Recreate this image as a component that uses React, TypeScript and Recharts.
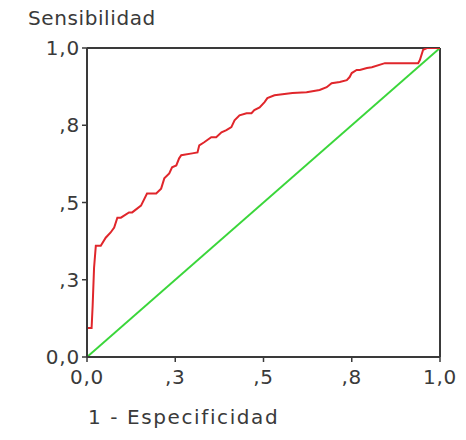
import React from "react";
import { LineChart, Line, XAxis, YAxis, ReferenceLine } from "recharts";

// ROC curve: 1 - specificity (x) and sensitivity (y)
const fpr = [
  0, 0, 0, 0.013, 0.016, 0.02, 0.025, 0.039, 0.053, 0.067, 0.077, 0.086, 0.096,
  0.119, 0.128, 0.153, 0.17, 0.196, 0.21, 0.219, 0.233, 0.241, 0.253, 0.261,
  0.267, 0.298, 0.313, 0.318, 0.332, 0.352, 0.366, 0.381, 0.395, 0.409, 0.418,
  0.432, 0.452, 0.466, 0.474, 0.489, 0.503, 0.511, 0.531, 0.582, 0.622, 0.659,
  0.679, 0.693, 0.716, 0.736, 0.744, 0.75, 0.764, 0.773, 0.793, 0.807, 0.844,
  0.938, 0.943, 0.952, 0.963, 1
];
const tpr = [
  0, 0.042, 0.094, 0.094, 0.166, 0.289, 0.36, 0.36, 0.386, 0.403, 0.419, 0.451,
  0.451, 0.468, 0.468, 0.49, 0.529, 0.529, 0.545, 0.578, 0.594, 0.614, 0.62,
  0.643, 0.653, 0.659, 0.662, 0.685, 0.695, 0.711, 0.711, 0.727, 0.734, 0.744,
  0.766, 0.782, 0.789, 0.789, 0.799, 0.808, 0.825, 0.838, 0.847, 0.854, 0.857,
  0.864, 0.873, 0.886, 0.89, 0.896, 0.906, 0.919, 0.929, 0.929, 0.935, 0.938,
  0.951, 0.951, 0.961, 0.994, 1, 1
];

const diagX = [0, 1];
const diagY = [0, 1];

const tickValues = [0, 0.25, 0.5, 0.75, 1];
const tickLabels = ["0,0", ",3", ",5", ",8", "1,0"];

const rocData = fpr.map((x, i) => ({ x, y: tpr[i] }));
const diagData = diagX.map((x, i) => ({ x, y: diagY[i] }));

const FONT = "'DejaVu Sans', Verdana, sans-serif";
const TEXT = "#3a3a3a";
const AXIS = "#3a3a3a";

function formatTick(v: number): string {
  const i = tickValues.indexOf(v);
  return i >= 0 ? tickLabels[i] : String(v);
}

export default function App() {
  return (
    <div style={{ position: "absolute", left: 0, top: 0, width: 466, height: 440, background: "#fff", fontFamily: FONT }}>
      <div
        style={{
          position: "absolute",
          left: 28,
          top: 8,
          fontSize: 20,
          lineHeight: "20px",
          letterSpacing: 0.6,
          color: TEXT
        }}
      >
        Sensibilidad
      </div>
      <LineChart width={466} height={440} margin={{ top: 48, right: 26, bottom: 53, left: 0 }}>
        <XAxis
          type="number"
          dataKey="x"
          domain={[0, 1]}
          ticks={tickValues}
          tickFormatter={formatTick}
          interval={0}
          height={30}
          tickSize={5}
          tickMargin={8}
          axisLine={{ stroke: AXIS, strokeWidth: 2 }}
          tickLine={{ stroke: AXIS, strokeWidth: 1.5 }}
          tick={{ fill: TEXT, fontSize: 20, fontFamily: FONT, letterSpacing: 0.8 }}
          allowDataOverflow
        />
        <YAxis
          type="number"
          dataKey="y"
          domain={[0, 1]}
          ticks={tickValues}
          tickFormatter={formatTick}
          interval={0}
          width={87}
          tickSize={5}
          tickMargin={2}
          axisLine={{ stroke: AXIS, strokeWidth: 2 }}
          tickLine={{ stroke: AXIS, strokeWidth: 1.5 }}
          tick={{ fill: TEXT, fontSize: 20, fontFamily: FONT, letterSpacing: 0.8 }}
          allowDataOverflow
        />
        <ReferenceLine y={1} stroke={AXIS} strokeWidth={2} />
        <ReferenceLine x={1} stroke={AXIS} strokeWidth={2} />
        <Line
          data={diagData}
          dataKey="y"
          type="linear"
          stroke="#3ad63a"
          strokeWidth={2}
          dot={false}
          isAnimationActive={false}
        />
        <Line
          data={rocData}
          dataKey="y"
          type="linear"
          stroke="#e0262b"
          strokeWidth={2}
          dot={false}
          isAnimationActive={false}
        />
      </LineChart>
      <div
        style={{
          position: "absolute",
          left: 88,
          top: 407,
          fontSize: 20,
          lineHeight: "20px",
          letterSpacing: 1.6,
          color: TEXT
        }}
      >
        1 - Especificidad
      </div>
    </div>
  );
}
